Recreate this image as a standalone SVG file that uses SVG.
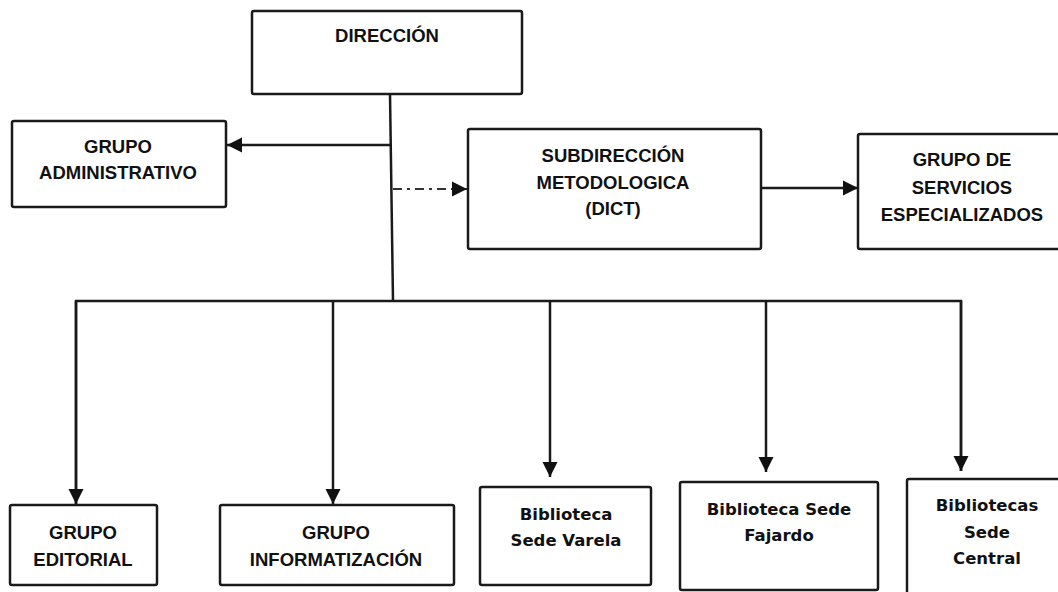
<svg xmlns="http://www.w3.org/2000/svg" width="1058" height="592" viewBox="0 0 1058 592">
<style>
.box{fill:#fff;stroke:#1a1a1a;stroke-width:2.5}
.cap{font-family:"Liberation Sans",Arial,sans-serif;font-weight:bold;font-size:18.5px;fill:#111;text-anchor:middle}
.low{font-family:"DejaVu Sans",Verdana,sans-serif;font-weight:bold;font-size:16.5px;fill:#111;text-anchor:middle}
.ln{fill:none;stroke:#1a1a1a;stroke-width:2.5}
.dd{fill:none;stroke:#333;stroke-width:2.2;stroke-dasharray:9 5 3 5}
</style>
<defs>
<marker id="ah" markerUnits="userSpaceOnUse" markerWidth="17" markerHeight="17" viewBox="0 0 17 17" refX="16" refY="8.5" orient="auto">
<path d="M1,1 L16,8.5 L1,16 Z" fill="#111"/>
</marker>
</defs>
<rect width="1058" height="592" fill="#fff"/>
<g id="connectors">
<path class="ln" d="M390,94 L393,301"/>
<path class="ln" d="M391,145 L227,145" marker-end="url(#ah)"/>
<path class="dd" d="M393,189 L467,189" marker-end="url(#ah)"/>
<path class="ln" d="M761,188 L858,188" marker-end="url(#ah)"/>
<path class="ln" d="M76,504 L76,301 L961,301 L961,471"/>
<path class="ln" d="M76,301 L76,504" marker-end="url(#ah)"/>
<path class="ln" d="M333,301 L333,504" marker-end="url(#ah)"/>
<path class="ln" d="M550,301 L550,477" marker-end="url(#ah)"/>
<path class="ln" d="M766,301 L766,472" marker-end="url(#ah)"/>
<path class="ln" d="M961,301 L961,471" marker-end="url(#ah)"/>
</g>
<g id="direccion">
<rect class="box" x="252" y="11" width="270" height="83" rx="2"/>
<text class="cap" x="387" y="42">DIRECCIÓN</text>
</g>
<g id="grupo-administrativo">
<rect class="box" x="12" y="121" width="214" height="86" rx="2"/>
<text class="cap" x="118" y="153">GRUPO</text>
<text class="cap" x="118" y="179">ADMINISTRATIVO</text>
</g>
<g id="subdireccion">
<rect class="box" x="468" y="129" width="293" height="120" rx="2"/>
<text class="cap" x="613" y="162">SUBDIRECCIÓN</text>
<text class="cap" x="613" y="189">METODOLOGICA</text>
<text class="cap" x="613" y="215">(DICT)</text>
</g>
<g id="grupo-servicios">
<rect class="box" x="858" y="134" width="210" height="115" rx="2"/>
<text class="cap" x="962" y="166">GRUPO DE</text>
<text class="cap" x="962" y="194">SERVICIOS</text>
<text class="cap" x="962" y="221">ESPECIALIZADOS</text>
</g>
<g id="grupo-editorial">
<rect class="box" x="10" y="505" width="147" height="80" rx="2"/>
<text class="cap" x="83" y="539">GRUPO</text>
<text class="cap" x="83" y="566">EDITORIAL</text>
</g>
<g id="grupo-informatizacion">
<rect class="box" x="220" y="505" width="234" height="80" rx="2"/>
<text class="cap" x="336" y="539">GRUPO</text>
<text class="cap" x="336" y="566">INFORMATIZACIÓN</text>
</g>
<g id="biblioteca-varela">
<rect class="box" x="480" y="487" width="171" height="98" rx="2"/>
<text class="low" x="566" y="520">Biblioteca</text>
<text class="low" x="566" y="546">Sede Varela</text>
</g>
<g id="biblioteca-fajardo">
<rect class="box" x="680" y="482" width="198" height="108" rx="2"/>
<text class="low" x="779" y="515">Biblioteca Sede</text>
<text class="low" x="779" y="541">Fajardo</text>
</g>
<g id="bibliotecas-central">
<rect class="box" x="907" y="479" width="165" height="125" rx="2"/>
<text class="low" x="987" y="511">Bibliotecas</text>
<text class="low" x="987" y="538">Sede</text>
<text class="low" x="987" y="564">Central</text>
</g>
</svg>
